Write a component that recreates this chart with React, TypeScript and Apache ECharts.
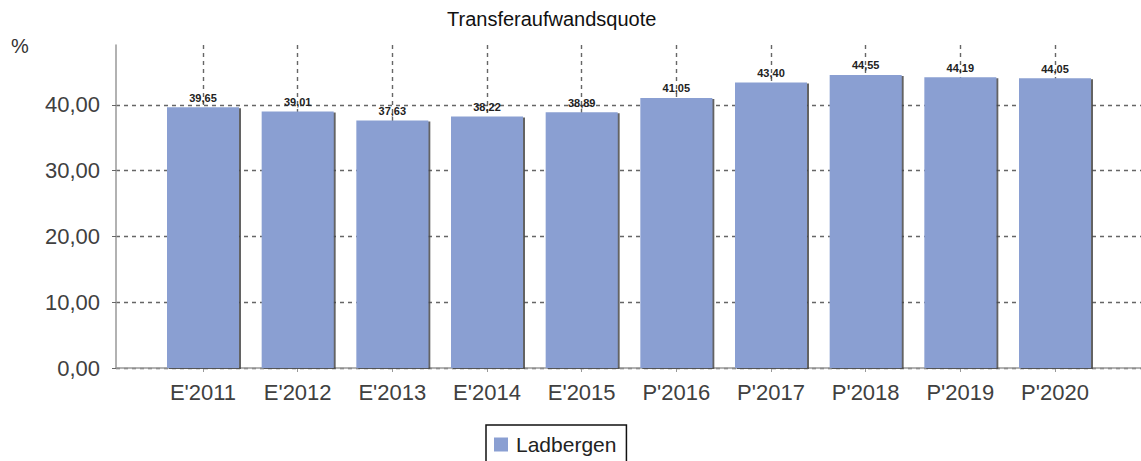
import React, { useEffect, useRef } from "react";
import * as echarts from "echarts";

const categories = ["E'2011", "E'2012", "E'2013", "E'2014", "E'2015", "P'2016", "P'2017", "P'2018", "P'2019", "P'2020"];
const values = [39.65, 39.01, 37.63, 38.22, 38.89, 41.05, 43.4, 44.55, 44.19, 44.05];
const seriesName = "Ladbergen";
const titleText = "Transferaufwandsquote";
const unitText = "%";

const FONT = "'Liberation Sans', Arial, sans-serif";
const fmt = (v: number) => v.toFixed(2).replace(".", ",");

export default function App() {
  const ref = useRef<HTMLDivElement>(null);
  useEffect(() => {
    if (!ref.current) return;
    const chart = echarts.init(ref.current, null, { renderer: "svg" });
    const yMax = 49.1;
    const dash = { color: "#666", type: [4, 4], width: 1.4 };
    chart.setOption({
      animation: false,
      backgroundColor: "#ffffff",
      title: {
        text: titleText,
        left: 447,
        top: 9,
        padding: 0,
        textStyle: { fontFamily: FONT, fontSize: 20, fontWeight: "normal", color: "#111" },
      },
      graphic: [
        {
          type: "text",
          left: 11,
          top: 36,
          style: { text: unitText, font: `20px ${FONT}`, fill: "#333" },
        },
      ],
      legend: {
        left: 486,
        top: 425,
        itemWidth: 14,
        itemHeight: 14,
        icon: "rect",
        borderColor: "#111",
        borderWidth: 1.5,
        padding: [9, 10, 20, 8],
        textStyle: { fontFamily: FONT, fontSize: 21, color: "#222", padding: [0, 0, 0, 3] },
        data: [seriesName],
      },
      grid: [
        { left: 116, right: 0, top: 45, bottom: 93 },
        { left: 203, right: 86, top: 45, bottom: 93 },
      ],
      xAxis: [
        {
          gridIndex: 0,
          type: "value",
          min: 0,
          max: 1,
          axisLine: { show: true, onZero: false, lineStyle: { color: "#999", width: 1.5 } },
          axisTick: { show: false },
          axisLabel: { show: false },
          splitLine: { show: false },
        },
        {
          gridIndex: 1,
          type: "category",
          data: categories,
          boundaryGap: false,
          axisLine: { show: false },
          axisTick: { show: true, length: 4, lineStyle: { color: "#999" } },
          axisLabel: { fontFamily: FONT, fontSize: 22, color: "#404040", margin: 13 },
          splitLine: { show: true, lineStyle: dash },
        },
      ],
      yAxis: [
        {
          gridIndex: 0,
          type: "value",
          min: 0,
          max: yMax,
          interval: 10,
          axisLine: { show: true, lineStyle: { color: "#999", width: 1.5 } },
          axisTick: { show: true, length: 4, lineStyle: { color: "#666" } },
          axisLabel: {
            fontFamily: FONT,
            fontSize: 22,
            color: "#404040",
            margin: 16,
            showMaxLabel: false,
            formatter: (v: number) => fmt(v),
          },
          splitLine: {
            show: true,
            lineStyle: {
              ...dash,
              color: ["#666", "#666", "#666", "#666", "#666", "rgba(0,0,0,0)"],
            },
          },
        },
        {
          gridIndex: 1,
          type: "value",
          min: 0,
          max: yMax,
          show: false,
          splitLine: { show: false },
        },
      ],
      series: [
        {
          name: seriesName,
          type: "bar",
          xAxisIndex: 1,
          yAxisIndex: 1,
          data: values,
          barWidth: 72,
          clip: false,
          itemStyle: {
            color: "#8a9fd2",
            shadowColor: "rgba(70,70,70,0.85)",
            shadowOffsetX: 2,
            shadowOffsetY: 1,
            shadowBlur: 0,
          },
          label: {
            show: true,
            position: "top",
            distance: 4,
            fontFamily: FONT,
            fontSize: 11,
            fontWeight: "bold",
            color: "#222",
            formatter: (p: any) => fmt(p.value),
          },
        },
      ],
    });
    return () => chart.dispose();
  }, []);
  return <div ref={ref} style={{ width: 1141, height: 461, position: "absolute", left: 0, top: 0 }} />;
}
